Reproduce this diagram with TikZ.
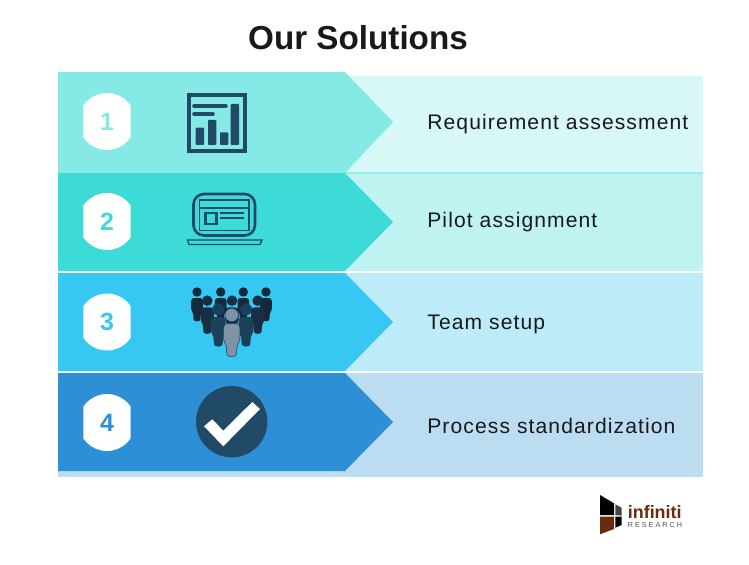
\documentclass[tikz,border=0pt]{standalone}
\usepackage{xcolor}
\usepackage{fontspec}
\setmainfont{Liberation Sans}
\newfontfamily\labelfont[LetterSpace=5.2]{Liberation Sans}
\newfontfamily\logofont[LetterSpace=28]{Liberation Sans}
\usetikzlibrary{positioning}
\definecolor{rowaqua}{HTML}{85EAE6}
\definecolor{rowteal}{HTML}{3CDBD8}
\definecolor{rowsky}{HTML}{36C8F2}
\definecolor{rowblue}{HTML}{2D8FD5}
\definecolor{paleaqua}{HTML}{D8F7F7}
\definecolor{paleteal}{HTML}{BFF3F1}
\definecolor{palesky}{HTML}{BDEBFA}
\definecolor{paleblue}{HTML}{BCDCF1}
\definecolor{icondark}{HTML}{214A67}
\definecolor{peopleback}{HTML}{14293A}
\definecolor{peoplemid}{HTML}{172F42}
\definecolor{peoplefront}{HTML}{1C405A}
\definecolor{peoplegrey}{HTML}{7F93A6}
\definecolor{logobrown}{HTML}{6B2A0B}
\definecolor{logogrey}{HTML}{444444}
\definecolor{logotext}{HTML}{505050}
\tikzset{
  person/.pic={
    \path[pic actions] (0,0) circle (4.7);
    \path[pic actions] (-5.8,9) .. controls (-5.8,7) and (-4.5,6) .. (-3,6) -- (3,6)
      .. controls (4.5,6) and (5.8,7) .. (5.8,9) -- (5.8,17) .. controls (5.8,19) and (4,20) .. (3.8,22)
      -- (3.4,27.5) .. controls (3.2,30) and (-3.2,30) .. (-3.4,27.5) -- (-3.8,22)
      .. controls (-4,20) and (-5.8,19) .. (-5.8,17) -- cycle;
  }
}
\begin{document}
\begin{tikzpicture}[x=0.02cm, y=-0.02cm]
    \tikzstyle{badge} = [rectangle, minimum width=0.95cm, minimum height=1.14cm, inner sep=0pt,
      path picture={\fill[white] (path picture bounding box.center) circle (0.57cm);},
      font=\fontsize{14.2pt}{16pt}\selectfont\bfseries]
    \tikzstyle{solution} = [anchor=west, inner sep=0pt, text=black!90,
      font=\labelfont\fontsize{12pt}{14pt}\selectfont]

    \useasboundingbox (0,0) rectangle (749,564);
    \fill[white] (0,0) rectangle (749,564);

    \fill[paleaqua] (345,76) rectangle (703,173);
    \fill[paleteal] (345,173) rectangle (703,271);
    \fill[palesky] (345,273) rectangle (703,371);
    \fill[paleblue] (58,373) rectangle (703,477);
    \draw[rowaqua!70!paleteal, line width=0.6pt] (345,173) -- (703,173);

    \fill[rowaqua] (58,72) -- (345,72) -- (393,122) -- (345,173) -- (58,173) -- cycle;
    \fill[rowteal] (58,173) -- (345,173) -- (393,222) -- (345,271) -- (58,271) -- cycle;
    \fill[rowsky] (58,273) -- (345,273) -- (393,322) -- (345,371) -- (58,371) -- cycle;
    \fill[rowblue] (58,373) -- (345,373) -- (393,422) -- (345,471) -- (58,471) -- cycle;

    \node (title) [font=\fontsize{18.9pt}{22pt}\selectfont\bfseries, text=black!90] at (358,37.5) {Our Solutions};

    \node (one)   [badge, text=rowaqua] at (107,121.5) {1};
    \node (two)   [badge, text=rowteal] at (107,221.5) {2};
    \node (three) [badge, text=rowsky] at (107,322) {3};
    \node (four)  [badge, text=rowblue] at (107,422.5) {4};

    \node (assessment)      [solution] at (427,124) {Requirement assessment};
    \node (pilot)           [solution] at (427,222) {Pilot assignment};
    \node (team)            [solution] at (427,324) {Team setup};
    \node (standardization) [solution] at (427,426) {Process standardization};

    \draw[icondark, line width=2.2pt] (189,95) rectangle (245,151);
    \fill[icondark, rounded corners=0.5pt] (195.7,127.7) rectangle (204,145);
    \fill[icondark, rounded corners=0.5pt] (208,120) rectangle (216.3,145);
    \fill[icondark, rounded corners=0.5pt] (220,132.3) rectangle (228.3,145);
    \fill[icondark, rounded corners=0.5pt] (230.7,104) rectangle (239,145);
    \draw[icondark, line width=2pt, line cap=round] (194,106) -- (226,106);
    \draw[icondark, line width=2pt, line cap=round] (194,114) -- (213,114);

    \draw[icondark, line width=1.5pt, rounded corners=6pt] (193.5,194) rectangle (255,235.5);
    \draw[icondark, line width=1.1pt] (199.5,200) rectangle (249,230.5);
    \draw[icondark, line width=1.1pt] (199.5,208.3) -- (249,208.3);
    \draw[icondark, line width=1.3pt] (205.5,213) rectangle (216.5,224);
    \draw[icondark, line width=1.2pt] (220,213.3) -- (244,213.3);
    \draw[icondark, line width=1.2pt] (220,218) -- (244,218);
    \draw[icondark, line width=0.8pt] (187.5,240) -- (262,240) -- (260,244.5) -- (189,244.5) -- cycle;

    \pic[fill=peopleback] at (197,292) {person};
    \pic[fill=peopleback] at (220.7,292) {person};
    \pic[fill=peopleback] at (243.3,292) {person};
    \pic[fill=peopleback] at (266,292) {person};
    \pic[fill=peoplemid, scale=1.13] at (207.3,300.7) {person};
    \pic[fill=peoplemid, scale=1.13] at (232,300.7) {person};
    \pic[fill=peoplemid, scale=1.13] at (257.7,300.7) {person};
    \pic[fill=peoplefront, scale=1.27] at (218.3,309.3) {person};
    \pic[fill=peoplefront, scale=1.27] at (246,309.3) {person};
    \pic[fill=peoplegrey, draw=peoplefront, line width=0.3pt, scale=1.42] at (231.7,315) {person};

    \fill[icondark] (231.7,421.7) circle (0.714cm);
    \fill[white] (204,426.3) -- (212.3,419.3) -- (223.3,430.7) -- (252.3,402) -- (260,409) -- (223.3,446.3) -- cycle;

    \fill[black] (600,495) -- (614,503.3) -- (614,515) -- (600,515) -- cycle;
    \fill[logogrey] (615.3,504.3) -- (621.7,507.7) -- (621.7,515.7) -- (615.3,515) -- cycle;
    \fill[logobrown] (600,516.7) -- (614,516.7) -- (614,529) -- (600,534.3) -- cycle;
    \fill[black] (615.3,516.7) -- (621.7,516.7) -- (621.7,525) -- (615.3,527.7) -- cycle;
    \node (infiniti) [anchor=base west, inner sep=0pt, text=logobrown,
      font=\fontsize{10.2pt}{11pt}\selectfont\bfseries] at (627.5,518.3) {infiniti};
    \node (research) [below=0.07cm of infiniti.south west, anchor=north west, inner sep=0pt, text=logotext,
      font=\logofont\fontsize{4.1pt}{5pt}\selectfont] {RESEARCH};
\end{tikzpicture}
\end{document}
